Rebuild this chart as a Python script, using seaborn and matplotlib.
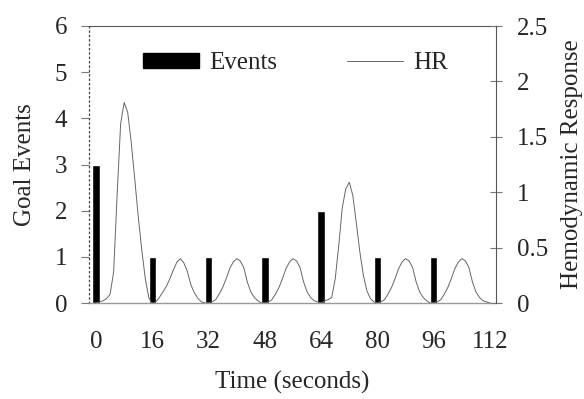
import numpy as np
import pandas as pd
import seaborn as sns
import matplotlib
matplotlib.use('Agg')
import matplotlib.pyplot as plt
from matplotlib.patches import Patch
from matplotlib.lines import Line2D

# goal events (left axis)
event_times = [0, 16, 32, 48, 64, 80, 96]
goal_events = [3, 1, 1, 1, 2, 1, 1]

# hemodynamic response (right axis), one sample per second
hr_time = np.arange(0, 113)
hr_values = [
    0.00, 0.01, 0.02, 0.04, 0.08, 0.28, 0.98, 1.62, 1.81, 1.72,   # 0-9
    1.45, 1.12, 0.78, 0.48, 0.22, 0.05, -0.02, 0.01, 0.05, 0.10,  # 10-19
    0.15, 0.22, 0.30, 0.37, 0.40, 0.36, 0.28, 0.16, 0.09, 0.04,   # 20-29
    0.01, 0.00, 0.00, 0.01, 0.03, 0.08, 0.14, 0.22, 0.31, 0.37,   # 30-39
    0.40, 0.38, 0.32, 0.19, 0.10, 0.05, 0.02, 0.00, 0.00, 0.01,   # 40-49
    0.03, 0.08, 0.14, 0.22, 0.31, 0.37, 0.40, 0.38, 0.32, 0.19,   # 50-59
    0.10, 0.05, 0.02, 0.01, 0.00, 0.02, 0.03, 0.05, 0.22, 0.52,   # 60-69
    0.86, 1.03, 1.09, 0.97, 0.72, 0.46, 0.25, 0.11, 0.04, 0.01,   # 70-79
    0.00, 0.01, 0.03, 0.08, 0.14, 0.22, 0.31, 0.37, 0.40, 0.38,   # 80-89
    0.32, 0.19, 0.10, 0.05, 0.02, 0.00, 0.00, 0.01, 0.03, 0.08,   # 90-99
    0.14, 0.22, 0.31, 0.37, 0.40, 0.38, 0.32, 0.19, 0.10, 0.05,   # 100-109
    0.02, 0.01, 0.00,                                             # 110-112
]

x_ticks = [0, 16, 32, 48, 64, 80, 96, 112]
left_ticks = [0, 1, 2, 3, 4, 5, 6]
right_ticks = [0, 0.5, 1, 1.5, 2, 2.5]
right_labels = ['0', '0.5', '1', '1.5', '2', '2.5']

sns.set_style('white')
plt.rcParams['font.family'] = ['Liberation Serif', 'DejaVu Serif']
plt.rcParams['font.size'] = 18

fig = plt.figure(figsize=(5.84, 3.99), dpi=100)
ax = fig.add_axes([89 / 584, 1 - 303 / 399, 407 / 584, 277 / 399])

ev = pd.DataFrame({'t': event_times, 'n': goal_events})
sns.barplot(data=ev, x='t', y='n', native_scale=True, width=2.1 / 16,
            color='black', saturation=1, ax=ax)

ax.set_xlim(-2, 113.7)
ax.set_ylim(0, 6)
ax.set_xticks(x_ticks)
ax.set_xticklabels([str(t) for t in x_ticks])
ax.set_yticks(left_ticks)
ax.tick_params(axis='x', length=0, pad=20, labelsize=18)
ax.tick_params(axis='y', direction='out', length=6, width=0.8, color='#777',
               pad=9.5, labelsize=18)
ax.set_xlabel('Time (seconds)', fontsize=18, labelpad=13)
ax.set_ylabel('Goal Events', fontsize=18, labelpad=14)

ax.spines['left'].set_linestyle((0, (1, 2.5)))
ax.spines['left'].set_color('#444')
ax.spines['left'].set_linewidth(0.9)
ax.spines['right'].set_visible(False)
ax.spines['top'].set_color('#555')
ax.spines['top'].set_linewidth(0.8)
ax.spines['bottom'].set_color('#999')
ax.spines['bottom'].set_linewidth(1.0)

ax2 = ax.twinx()
hr = pd.DataFrame({'t': hr_time, 'hr': hr_values})
sns.lineplot(data=hr, x='t', y='hr', color='#666', linewidth=0.7, ax=ax2)
ax2.set_ylim(0, 2.5)
ax2.set_yticks(right_ticks)
ax2.set_yticklabels(right_labels)
ax2.tick_params(axis='y', direction='inout', length=9, width=0.8, color='#777',
                pad=10.5, labelsize=18)
ax2.set_ylabel('Hemodynamic Response', fontsize=18, labelpad=9)
for s in ['left', 'top', 'bottom']:
    ax2.spines[s].set_visible(False)
ax2.spines['right'].set_color('#555')
ax2.spines['right'].set_linewidth(0.8)

handles = [Patch(facecolor='black', edgecolor='black'),
           Line2D([], [], color='#666', linewidth=0.7)]
ax2.legend(handles, ['Events', 'HR'], ncol=2, frameon=False, fontsize=18,
           loc='center', bbox_to_anchor=(0.507, 0.866), handlelength=2.25,
           handleheight=0.55, handletextpad=0.4, columnspacing=2.8)

fig.savefig('out.png', dpi=100)
